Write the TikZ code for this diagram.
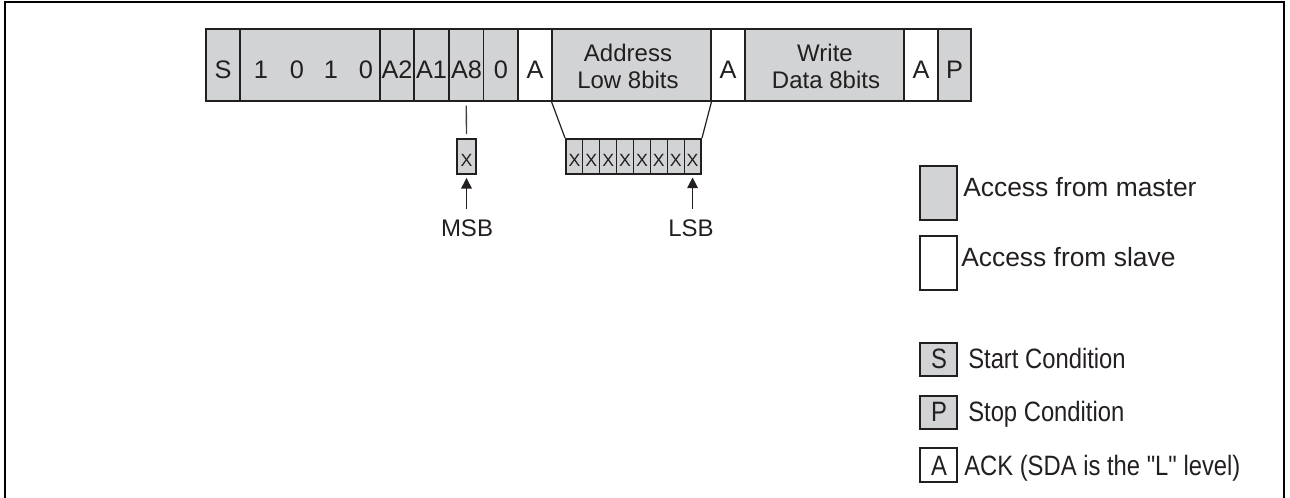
\documentclass[tikz,border=0pt]{standalone}
\usepackage{fontspec}
\setmainfont{Liberation Sans}
\newfontfamily\legfont{Liberation Sans}[FakeStretch=0.85]
\usetikzlibrary{arrows.meta,fit,calc}
\definecolor{fillgray}{RGB}{209,211,212}
\definecolor{ink}{RGB}{35,31,32}
\begin{document}
\begin{tikzpicture}[x=0.75pt, y=-0.75pt,
  box/.style={draw=ink, line width=0.8pt, inner sep=0pt, fill=fillgray},
  ackbox/.style={box, fill=white},
  outline/.style={draw=ink, line width=1.5pt, inner sep=0pt},
  bartext/.style={font=\fontsize{19}{22}\selectfont, text=ink, inner sep=0pt, anchor=base},
  twotext/.style={font=\fontsize{18}{21}\selectfont, text=ink, inner sep=0pt, anchor=base},
  bittext/.style={font=\fontsize{13.3}{15}\selectfont, text=ink, inner sep=0pt, anchor=base},
  legtext/.style={font=\legfont\fontsize{21}{24}\selectfont, text=ink, inner sep=0pt, anchor=base west},
  keytext/.style={font=\legfont\fontsize{21}{24}\selectfont, text=ink, inner sep=0pt, anchor=base},
  bigleg/.style={font=\fontsize{19.8}{23}\selectfont, text=ink, inner sep=0pt, anchor=base west},
  link/.style={draw=ink!85, line width=1pt},
  ptr/.style={draw=ink, line width=1pt, -{Triangle[length=8pt,width=8pt]}},
]
\useasboundingbox (0,0) rectangle (1290,497);
% frame
\draw[line width=1.9pt] (5,500) -- (5,2) -- (1284,2) -- (1284,500);

% bar cells
\node[box,     fit={(206,29) (240,101)}]   (fS)    {};
\node[box,     fit={(240,29) (380,101)}]   (fDev)  {};
\node[box,     fit={(380,29) (414,101)}]   (fA2)   {};
\node[box,     fit={(414,29) (449,101)}]   (fA1)   {};
\node[box,     fit={(449,29) (483.5,101)}] (fA8)   {};
\node[box,     fit={(483.5,29) (518,101)}] (fRW)   {};
\node[ackbox,  fit={(518,29) (552,101)}]   (fAk1)  {};
\node[box,     fit={(552,29) (711,101)}]   (fAddr) {};
\node[ackbox,  fit={(711,29) (745,101)}]   (fAk2)  {};
\node[box,     fit={(745,29) (904,101)}]   (fData) {};
\node[ackbox,  fit={(904,29) (938,101)}]   (fAk3)  {};
\node[box,     fit={(938,29) (971,101)}]   (fP)    {};
\node[outline, fit={(206,29) (971,101)}]   (bar)   {};

% bar texts
\node[bartext] (tS)   at (223,78)   {S};
\node[bartext] (t1a)  at (261,78)   {1};
\node[bartext] (t0a)  at (297,78)   {0};
\node[bartext] (t1b)  at (331,78)   {1};
\node[bartext] (t0b)  at (366,78)   {0};
\node[bartext] (tA2)  at (397,78)   {A2};
\node[bartext] (tA1)  at (431.5,78) {A1};
\node[bartext] (tA8)  at (466.5,78) {A8};
\node[bartext] (tRW)  at (501,78)   {0};
\node[bartext] (tAk1) at (535,78)   {A};
\node[twotext] (tAd1) at (628,61)   {Address};
\node[twotext] (tAd2) at (628,88)   {Low 8bits};
\node[bartext] (tAk2) at (728,78)   {A};
\node[twotext] (tWr1) at (825,61)   {Write};
\node[twotext] (tWr2) at (826,88)   {Data 8bits};
\node[bartext] (tAk3) at (921,78)   {A};
\node[bartext] (tP)   at (954.5,78) {P};

% MSB box
\node[box, line width=1.5pt, fit={(457,139) (476,174)}] (msbx) {};
\node[bittext] (msbxt) at (466.5,166) {X};

% address bits
\foreach \i in {1,...,8}{
  \pgfmathsetmacro{\xl}{566+(\i-1)*16.875}
  \pgfmathsetmacro{\xr}{566+\i*16.875}
  \node[box, fit={(\xl,139) (\xr,174)}] (b\i) {};
  \node[bittext] (bx\i) at ($(b\i.center)+(0,9.5)$) {X};
}
\node[outline, fit={(566,139) (701,174)}] (bits) {};

% connectors
\draw[link, shorten <=3pt, shorten >=3pt] (fA8.south) -- (msbx.north);
\draw[ink, line width=0.9pt] (fAddr.south west) -- (bits.north west);
\draw[ink, line width=0.9pt] (fAddr.south east) -- (bits.north east);

\coordinate (msbtail) at ($(msbx.south)+(0,34)$);
\coordinate (lsbtail) at ($(b8.south)+(0,34)$);
\draw[ptr, shorten >=2.2pt] (msbtail) -- (msbx.south);
\draw[ptr, shorten >=2.2pt] (lsbtail) -- (b8.south);
\node[twotext] (msb) at (467,236) {MSB};
\node[twotext] (lsb) at (691,236) {LSB};

% legend
\node[box, line width=1.5pt, fit={(920,166) (957,220)}] (kM) {};
\node[bigleg] (kMt) at (963,196) {Access from master};
\node[ackbox, line width=1.5pt, fit={(920,236) (957,290)}] (kSl) {};
\node[bigleg] (kSlt) at (961,266) {Access from slave};

\node[box, line width=1.5pt, fit={(920,343) (957,376)}] (kS) {};
\node[keytext] (kSc) at (939,368) {S};
\node[legtext] (kSt) at (968,368) {Start Condition};

\node[box, line width=1.5pt, fit={(920,396) (957,429)}] (kP) {};
\node[keytext] (kPc) at (939,421) {P};
\node[legtext] (kPt) at (968,421) {Stop Condition};

\node[ackbox, line width=1.5pt, fit={(920,448) (957,482)}] (kA) {};
\node[keytext] (kAc) at (939,475.5) {A};
\node[legtext] (kAt) at (964,475.5) {ACK (SDA is the "L" level)};
\end{tikzpicture}
\end{document}
